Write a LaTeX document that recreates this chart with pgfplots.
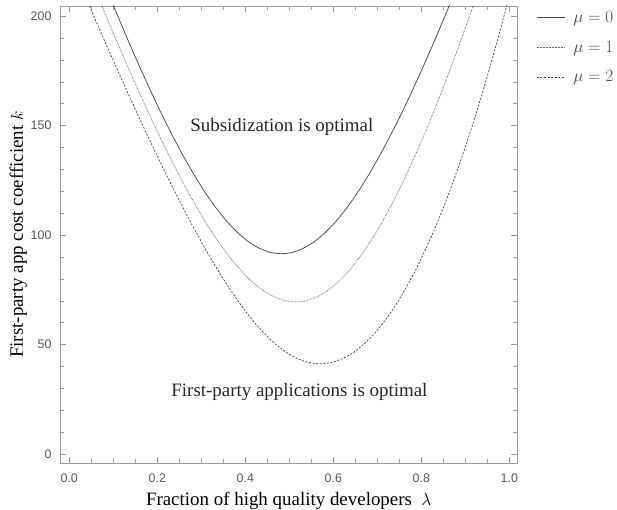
\documentclass[border=0pt]{standalone}
\usepackage{pgfplots}
\pgfplotsset{compat=1.18}
\usepackage{fontspec}
\setmainfont{Liberation Serif}
\newfontfamily\ticksans{Liberation Sans}
\definecolor{framegray}{HTML}{9A9A9A}
\definecolor{curvegray}{HTML}{4A4A4A}
\definecolor{labgray}{HTML}{555555}

% mu = 0
\pgfplotstableread{
x y
0.082 213.8
0.107 201.6
0.132 189.7
0.157 178.2
0.182 167.1
0.207 156.4
0.232 146.4
0.257 136.9
0.282 128.1
0.307 120.0
0.332 112.8
0.357 106.5
0.382 101.25
0.407 97.0
0.432 94.0
0.457 92.1
0.482 91.5
0.507 92.1
0.532 94.0
0.557 97.0
0.582 101.25
0.607 106.5
0.632 112.8
0.657 120.0
0.682 128.1
0.707 136.9
0.732 146.4
0.757 156.4
0.782 167.1
0.807 178.2
0.832 189.7
0.857 201.6
0.882 213.8
}\muzero

% mu = 1
\pgfplotstableread{
x y
0.065 209.1
0.09 197.0
0.115 185.2
0.14 173.7
0.165 162.5
0.19 151.6
0.215 141.1
0.24 131.1
0.265 121.5
0.29 112.6
0.315 104.2
0.34 96.6
0.365 89.8
0.39 83.8
0.415 78.8
0.44 74.8
0.465 71.9
0.49 70.1
0.515 69.5
0.54 70.1
0.565 72.0
0.59 75.1
0.615 79.4
0.64 84.8
0.665 91.3
0.69 98.9
0.715 107.4
0.74 116.8
0.765 127.1
0.79 138.2
0.815 149.95
0.84 162.4
0.865 175.4
0.89 189.0
0.915 203.1
0.94 217.7
}\muone

% mu = 2
\pgfplotstableread{
x y
0.02 216.65
0.045 204.95
0.07 193.4
0.095 182.0
0.12 170.7
0.145 159.65
0.17 148.8
0.195 138.2
0.22 127.8
0.245 117.8
0.27 108.1
0.295 98.8
0.32 90.0
0.345 81.6
0.37 73.9
0.395 66.7
0.42 60.3
0.445 54.7
0.47 50.0
0.495 46.2
0.52 43.4
0.545 41.8
0.57 41.2
0.595 41.8
0.62 43.5
0.645 46.3
0.67 50.3
0.695 55.4
0.72 61.7
0.745 69.1
0.77 77.6
0.795 87.3
0.82 98.1
0.845 110.0
0.87 123.1
0.895 137.3
0.92 152.7
0.945 169.2
0.97 186.8
0.995 205.6
1.02 225.5
}\mutwo

\begin{document}
\begin{tikzpicture}
\begin{axis}[
  name=ax,
  scale only axis,
  width=457.3bp,
  height=457.3bp,
  xmin=-0.021, xmax=1.018,
  ymin=-4.2, ymax=204.6,
  axis line style={framegray, line width=0.6pt},
  xtick={0,0.2,0.4,0.6,0.8,1.0},
  ytick={0,50,100,150,200},
  minor x tick num=3,
  minor y tick num=4,
  tick align=inside,
  tick style={framegray, line width=0.5pt},
  major tick length=6.5bp,
  minor tick length=4bp,
  xticklabel style={/pgf/number format/fixed, /pgf/number format/fixed zerofill,
    /pgf/number format/precision=1, yshift=-7bp},
  yticklabel style={xshift=-5bp},
  /pgf/number format/assume math mode=true,
  ticklabel style={font=\ticksans\fontsize{12.5}{14}\selectfont, text=labgray},
  xlabel={Fraction of high quality developers~~$\lambda$},
  ylabel={First-party app cost coefficient $k$},
  label style={font=\fontsize{19}{22}\selectfont},
  xlabel style={yshift=-3bp},
  ylabel style={yshift=-3bp},
  legend style={at={(1.035,0.997)}, anchor=north west, draw=none, fill=none,
    font=\fontsize{16}{18}\selectfont, text=curvegray, row sep=13bp,
    column sep=6bp, legend cell align=left},
  legend image code/.code={\draw[#1] (0bp,0bp) -- (28bp,0bp);},
]
\addplot[curvegray, line width=0.75pt, smooth, tension=0.4] table {\muzero};
\addlegendentry{$\mu = 0$}
\addplot[curvegray!85, line width=0.8pt, dash pattern=on 0.6pt off 0.9pt, smooth, tension=0.4] table {\muone};
\addlegendentry{$\mu = 1$}
\addplot[curvegray, line width=0.75pt, dash pattern=on 2pt off 1.6pt, smooth, tension=0.4] table {\mutwo};
\addlegendentry{$\mu = 2$}
\node[font=\fontsize{19}{22}\selectfont, text=black!85] at (axis cs:0.483,149.5) {Subsidization is optimal};
\node[font=\fontsize{19}{22}\selectfont, text=black!85] at (axis cs:0.523,28.2) {First-party applications is optimal};
\end{axis}
\pgfresetboundingbox
\path[use as bounding box] ([shift={(-60bp,-46.7bp)}]ax.south west) rectangle ([shift={(99.7bp,6bp)}]ax.north east);
\end{tikzpicture}
\end{document}
